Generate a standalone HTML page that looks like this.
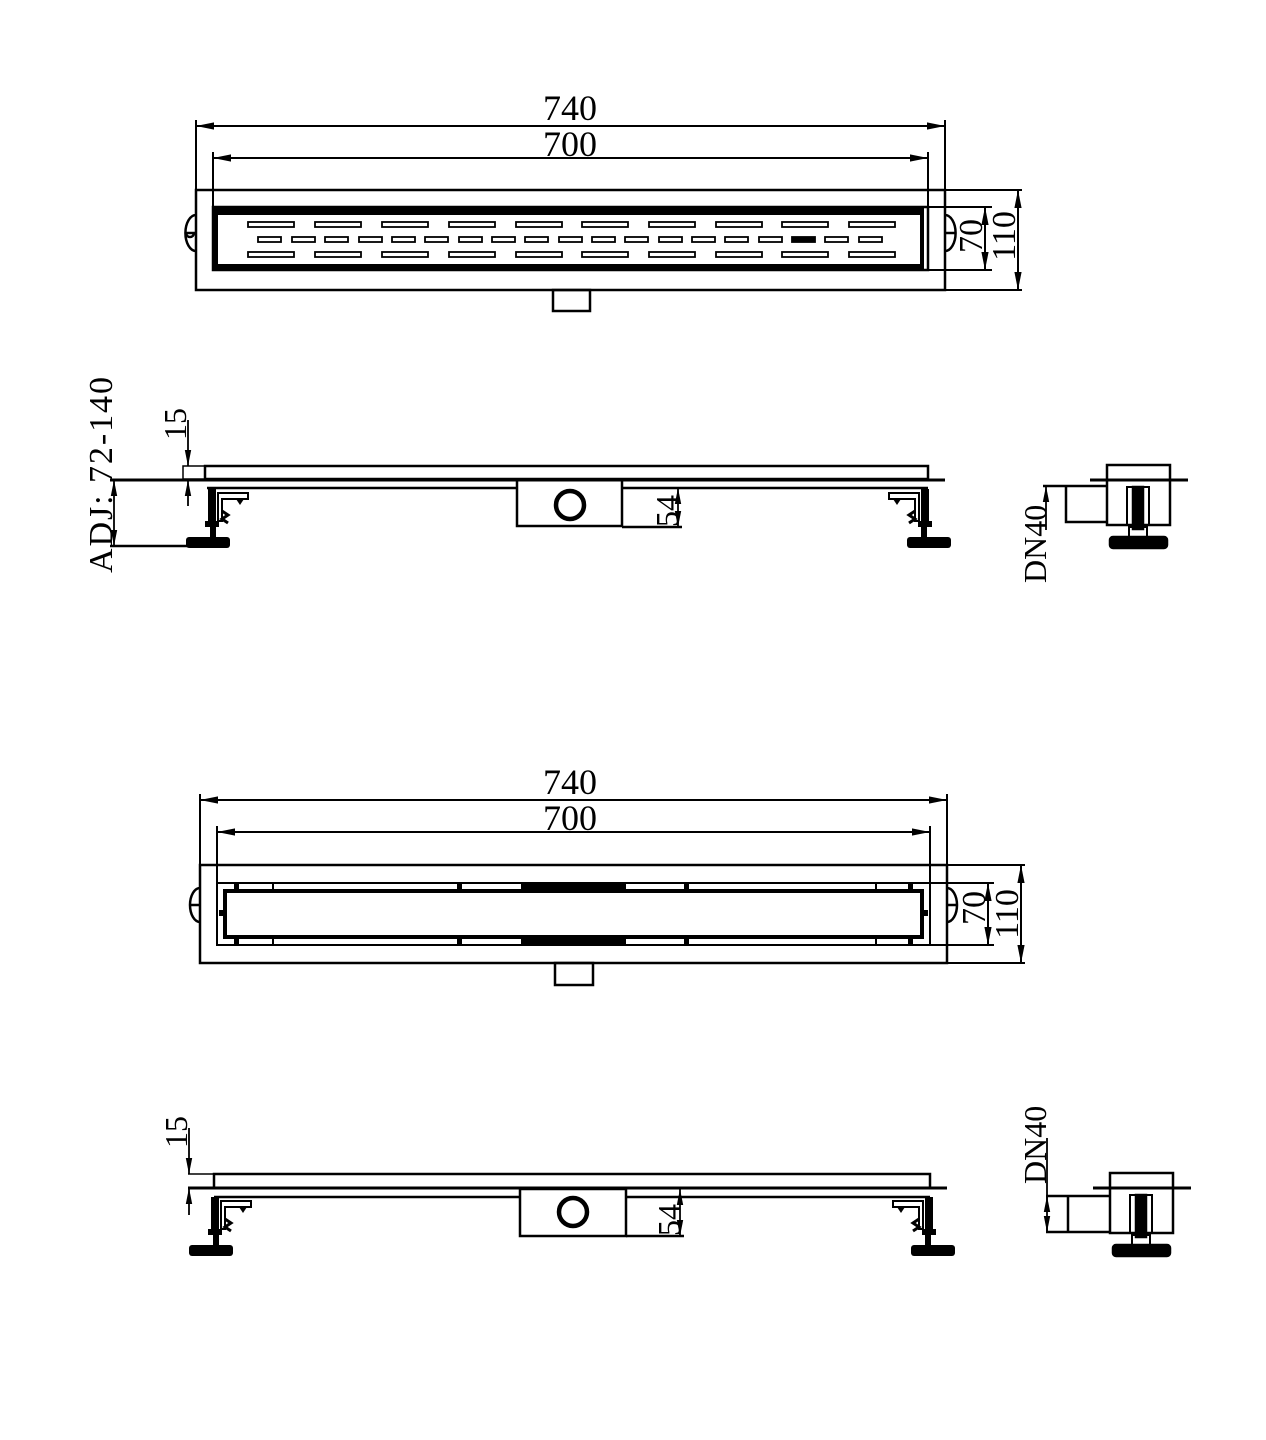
<!DOCTYPE html>
<html><head><meta charset="utf-8"><style>html,body{margin:0;padding:0;background:#fff}svg{display:block}text{font-family:"Liberation Serif",serif;fill:#000}</style></head><body>
<svg width="1266" height="1440" viewBox="0 0 1266 1440" xmlns="http://www.w3.org/2000/svg">
<defs>
<marker id="a" viewBox="0 0 10 10" refX="10" refY="5" markerWidth="9" markerHeight="9" orient="auto-start-reverse"><path d="M0,3 L10,5 L0,7" fill="#000"/></marker>
<g id="legL" fill="#000">
<rect x="0" y="0" width="8" height="34"/>
<rect x="-3" y="32" width="14" height="6"/>
<rect x="-22" y="48" width="44" height="11" rx="3"/>
<rect x="2" y="38" width="6" height="10"/>
<path d="M10,4 h30 v6 h-26 v22 h-4z" fill="none" stroke="#000" stroke-width="2"/>
<path d="M28,10 l4,6 l4,-6z"/>
<path d="M14,22 l6,4 l-6,4 l6,4" fill="none" stroke="#000" stroke-width="3"/>
</g>
<g id="endv" fill="none" stroke="#000" stroke-width="2.5">
<rect x="0" y="0" width="63" height="15"/>
<line x1="-17" y1="15" x2="81" y2="15" stroke-width="3"/>
<path d="M0,15 V60 H63 V15"/>
<rect x="20" y="22" width="22" height="38" stroke-width="2"/>
<rect x="26" y="22" width="10" height="42" fill="#000"/>
<rect x="3" y="72" width="57" height="11" rx="3" fill="#000"/>
<rect x="22" y="62" width="18" height="10" stroke-width="2"/>
</g>
</defs>

<g stroke="#000" fill="none" stroke-width="2">
<line x1="196" y1="126" x2="945" y2="126" marker-start="url(#a)" marker-end="url(#a)"/>
<line x1="213" y1="158" x2="928" y2="158" marker-start="url(#a)" marker-end="url(#a)"/>
<line x1="196" y1="120" x2="196" y2="290"/><line x1="945" y1="120" x2="945" y2="290"/>
<line x1="213" y1="152" x2="213" y2="270"/><line x1="928" y1="152" x2="928" y2="270"/>
<rect x="196" y="190" width="749" height="100" stroke-width="2.5"/>
<rect x="213" y="207" width="715" height="63" stroke-width="2.5"/>
<rect x="216" y="210" width="706" height="57" stroke-width="4"/>
<line x1="216" y1="212" x2="922" y2="212" stroke-width="6"/>
<line x1="216" y1="266" x2="922" y2="266" stroke-width="4"/>
<rect x="553" y="290" width="37" height="21" stroke-width="2.5"/>
<path d="M196,215 A10,17 0 0 0 196,251 M196,233 h-10 M186,233 a4,4 0 0 0 8 0" stroke-width="2.5"/>
<path d="M945,215 A10,17 0 0 1 945,251 M945,233 h10" stroke-width="2.5"/>
<line x1="928" y1="207" x2="992" y2="207"/><line x1="928" y1="270" x2="992" y2="270"/>
<line x1="985" y1="207" x2="985" y2="270" marker-start="url(#a)" marker-end="url(#a)"/>
<line x1="945" y1="190" x2="1022" y2="190"/><line x1="945" y1="290" x2="1022" y2="290"/>
<line x1="1018" y1="190" x2="1018" y2="290" marker-start="url(#a)" marker-end="url(#a)"/>
</g>
<g stroke="#000" fill="none" stroke-width="1.8">
<rect x="248" y="222" width="46" height="5"/><rect x="315" y="222" width="46" height="5"/><rect x="382" y="222" width="46" height="5"/><rect x="449" y="222" width="46" height="5"/><rect x="516" y="222" width="46" height="5"/><rect x="582" y="222" width="46" height="5"/><rect x="649" y="222" width="46" height="5"/><rect x="716" y="222" width="46" height="5"/><rect x="782" y="222" width="46" height="5"/><rect x="849" y="222" width="46" height="5"/>
<rect x="248" y="252" width="46" height="5"/><rect x="315" y="252" width="46" height="5"/><rect x="382" y="252" width="46" height="5"/><rect x="449" y="252" width="46" height="5"/><rect x="516" y="252" width="46" height="5"/><rect x="582" y="252" width="46" height="5"/><rect x="649" y="252" width="46" height="5"/><rect x="716" y="252" width="46" height="5"/><rect x="782" y="252" width="46" height="5"/><rect x="849" y="252" width="46" height="5"/>
<rect x="258" y="237" width="23" height="5"/><rect x="292" y="237" width="23" height="5"/><rect x="325" y="237" width="23" height="5"/><rect x="359" y="237" width="23" height="5"/><rect x="392" y="237" width="23" height="5"/><rect x="425" y="237" width="23" height="5"/><rect x="459" y="237" width="23" height="5"/><rect x="492" y="237" width="23" height="5"/><rect x="525" y="237" width="23" height="5"/><rect x="559" y="237" width="23" height="5"/><rect x="592" y="237" width="23" height="5"/><rect x="625" y="237" width="23" height="5"/><rect x="659" y="237" width="23" height="5"/><rect x="692" y="237" width="23" height="5"/><rect x="725" y="237" width="23" height="5"/><rect x="759" y="237" width="23" height="5"/><rect x="792" y="237" width="23" height="5" fill="#000"/><rect x="825" y="237" width="23" height="5"/><rect x="859" y="237" width="23" height="5"/>
</g>
<text x="570" y="120" font-size="36" text-anchor="middle">740</text>
<text x="570" y="156" font-size="36" text-anchor="middle">700</text>
<text transform="translate(982,236) rotate(-90)" font-size="34" text-anchor="middle">70</text>
<text transform="translate(1015,236) rotate(-90)" font-size="34" text-anchor="middle">110</text>

<g stroke="#000" fill="none" stroke-width="2.5">
<rect x="205" y="466" width="723" height="13"/>
<line x1="110" y1="480" x2="945" y2="480" stroke-width="3"/>
<rect x="183" y="466" width="22" height="13" stroke-width="1.5"/>
<line x1="207" y1="488" x2="517" y2="488"/><line x1="622" y1="488" x2="928" y2="488"/>
<rect x="517" y="480" width="105" height="46"/>
<line x1="622" y1="527" x2="682" y2="527"/>
<circle cx="570" cy="505" r="14" stroke-width="4.5"/>
<line x1="110" y1="546" x2="205" y2="546"/>
</g>
<g stroke="#000" fill="none" stroke-width="1.8">
<line x1="188" y1="420" x2="188" y2="466" marker-end="url(#a)"/>
<line x1="188" y1="506" x2="188" y2="480" marker-end="url(#a)"/>
<line x1="114" y1="480" x2="114" y2="546" marker-start="url(#a)" marker-end="url(#a)"/>
<line x1="678" y1="488" x2="678" y2="527" marker-start="url(#a)" marker-end="url(#a)"/>
</g>
<use href="#legL" x="208" y="489"/>
<use href="#legL" transform="translate(929,489) scale(-1,1)"/>
<text transform="translate(186,440) rotate(-90)" font-size="32">15</text>
<text transform="translate(112,573) rotate(-90)" font-size="34" textLength="196" lengthAdjust="spacing">ADJ:  72-140</text>
<text transform="translate(678,527) rotate(-90)" font-size="32">54</text>
<use href="#endv" x="1107" y="465"/>
<g stroke="#000" fill="none" stroke-width="2.5">
<path d="M1107,486 H1043 M1066,486 V522 H1107"/>
</g>
<line x1="1046" y1="486" x2="1046" y2="530" stroke="#000" stroke-width="1.8" marker-start="url(#a)"/>
<text transform="translate(1046,583) rotate(-90)" font-size="32">DN40</text>

<g stroke="#000" fill="none" stroke-width="2">
<line x1="200" y1="800" x2="947" y2="800" marker-start="url(#a)" marker-end="url(#a)"/>
<line x1="217" y1="832" x2="930" y2="832" marker-start="url(#a)" marker-end="url(#a)"/>
<line x1="200" y1="794" x2="200" y2="963"/><line x1="947" y1="794" x2="947" y2="963"/>
<line x1="217" y1="826" x2="217" y2="945"/><line x1="930" y1="826" x2="930" y2="945"/>
<rect x="200" y="865" width="747" height="98" stroke-width="2.5"/>
<rect x="217" y="883" width="713" height="62" stroke-width="2"/>
<rect x="225" y="891" width="697" height="46" stroke-width="4"/>
<rect x="555" y="963" width="38" height="22" stroke-width="2.5"/>
<path d="M200,888 A10,17 0 0 0 200,922 M200,905 h-10" stroke-width="2.5"/>
<path d="M947,888 A10,17 0 0 1 947,922 M947,905 h10" stroke-width="2.5"/>
<line x1="930" y1="883" x2="994" y2="883"/><line x1="930" y1="945" x2="994" y2="945"/>
<line x1="988" y1="883" x2="988" y2="945" marker-start="url(#a)" marker-end="url(#a)"/>
<line x1="947" y1="865" x2="1025" y2="865"/><line x1="947" y1="963" x2="1025" y2="963"/>
<line x1="1021" y1="865" x2="1021" y2="963" marker-start="url(#a)" marker-end="url(#a)"/>
</g>
<g fill="#000">
<rect x="521" y="884" width="105" height="5"/>
<rect x="521" y="938" width="105" height="6"/>
<rect x="234" y="884" width="5" height="6"/><rect x="234" y="938" width="5" height="6"/>
<rect x="272" y="884" width="2" height="6"/><rect x="272" y="938" width="2" height="6"/>
<rect x="457" y="884" width="5" height="6"/><rect x="457" y="938" width="5" height="6"/>
<rect x="684" y="884" width="5" height="6"/><rect x="684" y="938" width="5" height="6"/>
<rect x="875" y="884" width="2" height="6"/><rect x="875" y="938" width="2" height="6"/>
<rect x="908" y="884" width="5" height="6"/><rect x="908" y="938" width="5" height="6"/>
<rect x="219" y="910" width="5" height="6"/><rect x="923" y="910" width="5" height="6"/>
</g>
<text x="570" y="794" font-size="36" text-anchor="middle">740</text>
<text x="570" y="830" font-size="36" text-anchor="middle">700</text>
<text transform="translate(985,908) rotate(-90)" font-size="34" text-anchor="middle">70</text>
<text transform="translate(1018,914) rotate(-90)" font-size="34" text-anchor="middle">110</text>

<g stroke="#000" fill="none" stroke-width="2.5">
<rect x="214" y="1174" width="716" height="14"/>
<line x1="188" y1="1188" x2="947" y2="1188" stroke-width="3"/>
<line x1="188" y1="1174" x2="214" y2="1174" stroke-width="1.5"/>
<line x1="214" y1="1197" x2="520" y2="1197"/><line x1="626" y1="1197" x2="930" y2="1197"/>
<rect x="520" y="1189" width="106" height="47"/>
<line x1="626" y1="1236" x2="684" y2="1236"/>
<circle cx="573" cy="1212" r="14" stroke-width="4.5"/>
</g>
<g stroke="#000" fill="none" stroke-width="1.8">
<line x1="189" y1="1128" x2="189" y2="1174" marker-end="url(#a)"/>
<line x1="189" y1="1215" x2="189" y2="1188" marker-end="url(#a)"/>
<line x1="680" y1="1189" x2="680" y2="1236" marker-start="url(#a)" marker-end="url(#a)"/>
</g>
<use href="#legL" x="211" y="1197"/>
<use href="#legL" transform="translate(933,1197) scale(-1,1)"/>
<text transform="translate(187,1148) rotate(-90)" font-size="32">15</text>
<text transform="translate(680,1236) rotate(-90)" font-size="32">54</text>
<use href="#endv" x="1110" y="1173"/>
<g stroke="#000" fill="none" stroke-width="2.5">
<path d="M1110,1196 H1046 M1068,1196 V1232 H1110 M1046,1232 H1068"/>
</g>
<line x1="1047" y1="1138" x2="1047" y2="1232" stroke="#000" stroke-width="1.8"/>
<line x1="1047" y1="1200" x2="1047" y2="1196" stroke="#000" stroke-width="1.8" marker-end="url(#a)"/>
<line x1="1047" y1="1226" x2="1047" y2="1232" stroke="#000" stroke-width="1.8" marker-end="url(#a)"/>
<text transform="translate(1046,1184) rotate(-90)" font-size="32">DN40</text>
</svg>
</body></html>
